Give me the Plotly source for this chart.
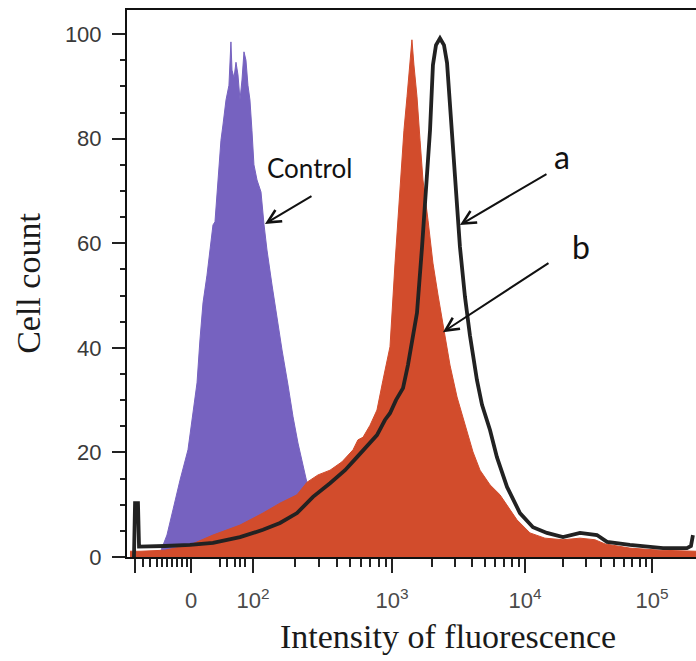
import numpy as np
import plotly.graph_objects as go

# ---- Data (x in display units of the biexponential axis: 10^k -> k) ----
control_x = [1.256, 1.278, 1.308, 1.353, 1.406, 1.466, 1.504, 1.534, 1.556, 1.579, 1.609,
             1.632, 1.654, 1.669, 1.692, 1.714, 1.729, 1.752, 1.774, 1.782, 1.789, 1.797,
             1.812, 1.827, 1.842, 1.857, 1.872, 1.887, 1.902, 1.917, 1.932, 1.947, 1.962,
             1.985, 2.015, 2.038, 2.060, 2.098, 2.135, 2.173, 2.218, 2.256, 2.293, 2.331,
             2.368, 2.421, 2.496, 2.571, 2.647]
control_y = [0.8, 2.3, 4.2, 9.0, 14.7, 20.5, 27.2, 33.3, 41.5, 48.6, 53.9,
             58.7, 63.5, 64.1, 73.0, 79.7, 82.6, 87.4, 90.2, 95.0, 98.5, 93.1,
             91.6, 94.6, 92.2, 87.4, 91.2, 96.6, 95.0, 90.2, 87.4, 81.6, 75.0,
             72.1, 69.8, 63.5, 58.7, 52.0, 45.7, 39.6, 32.9, 26.8, 21.8, 17.2,
             13.4, 9.0, 4.6, 1.7, 0.8]

b_x = [1.030, 1.105, 1.293, 1.481, 1.654, 1.857, 2.030, 2.158, 2.286, 2.361, 2.444,
       2.534, 2.624, 2.707, 2.744, 2.782, 2.835, 2.887, 2.932, 2.985, 3.023, 3.060,
       3.090, 3.113, 3.135, 3.150, 3.165, 3.188, 3.211, 3.233, 3.271, 3.308, 3.346,
       3.383, 3.436, 3.489, 3.526, 3.564, 3.609, 3.662, 3.737, 3.812, 3.872, 3.940,
       4.038, 4.150, 4.286, 4.414, 4.526, 4.602, 4.789, 5.015, 5.286]
b_y = [1.1, 1.1, 1.3, 2.3, 4.2, 6.1, 8.4, 10.3, 11.9, 14.3, 15.7,
       16.6, 18.2, 20.5, 22.4, 22.9, 25.2, 28.1, 33.8, 40.2, 56.2, 70.2,
       81.6, 88.0, 95.0, 98.9, 94.1, 88.0, 79.7, 72.1, 64.4, 56.2, 50.1,
       44.4, 36.7, 30.6, 27.2, 23.9, 20.1, 16.6, 13.8, 11.9, 9.6, 7.1,
       4.6, 3.6, 3.3, 3.6, 3.3, 2.5, 1.7, 1.3, 1.1]

a_x = [1.060, 1.068, 1.090, 1.098, 1.293, 1.481, 1.654, 1.857, 2.030, 2.158, 2.286,
       2.406, 2.534, 2.647, 2.737, 2.820, 2.887, 2.947, 2.985, 3.030, 3.083, 3.120,
       3.158, 3.188, 3.226, 3.263, 3.286, 3.308, 3.331, 3.361, 3.391, 3.414, 3.451,
       3.489, 3.511, 3.549, 3.586, 3.639, 3.677, 3.737, 3.789, 3.865, 3.962, 4.060,
       4.165, 4.286, 4.414, 4.541, 4.617, 4.789, 5.038, 5.218, 5.248, 5.263]
a_y = [0.0, 10.3, 10.3, 2.0, 2.1, 2.3, 2.7, 3.8, 5.2, 6.5, 8.4,
       11.5, 14.1, 16.6, 19.1, 21.4, 23.3, 26.2, 27.5, 30.0, 32.3, 36.7,
       42.4, 46.7, 59.3, 72.1, 81.6, 94.1, 97.9, 99.2, 97.9, 94.5, 81.6,
       68.8, 59.3, 49.7, 42.4, 33.8, 29.1, 24.3, 19.1, 13.4, 8.4, 5.7,
       4.6, 3.8, 4.6, 4.2, 2.9, 2.3, 1.7, 1.7, 2.1, 4.2]

# ---- Axis tick labels ----
x_tick_labels = ["", "0", "10<sup>2</sup>", "10<sup>3</sup>", "10<sup>4</sup>", "10<sup>5</sup>"]
x_tick_pos = [1.068, 1.489, 1.955, 3.0, 4.0, 4.955]
low_minor = [1.128, 1.180, 1.233, 1.271, 1.308, 1.346, 1.383, 1.421, 1.459,
             1.707, 1.759, 1.820, 1.857, 1.895]
decades = [1.955, 3.0, 4.0, 4.955]
minor_x = list(low_minor)
for lo, hi in zip(decades[:-1], decades[1:]):
    for m in range(2, 10):
        minor_x.append(lo + (hi - lo) * np.log10(m))

y_ticks = [0, 20, 40, 60, 80, 100]

fig = go.Figure()
fig.add_trace(go.Scatter(x=control_x, y=control_y, mode="lines", fill="tozeroy",
                         line=dict(color="#7662c0", width=1), fillcolor="#7662c0",
                         name="Control", showlegend=False))
fig.add_trace(go.Scatter(x=b_x, y=b_y, mode="lines", fill="tozeroy",
                         line=dict(color="#d24c2c", width=1), fillcolor="#d24c2c",
                         name="b", showlegend=False))
fig.add_trace(go.Scatter(x=a_x, y=a_y, mode="lines",
                         line=dict(color="#222222", width=3.8),
                         name="a", showlegend=False))

ann_font = "Lato, 'Open Sans', sans-serif"
annotations = [
    dict(x=2.383, y=74.4, xref="x", yref="y", text="Control", showarrow=False,
         font=dict(family=ann_font, size=26, color="#111")),
    dict(x=4.278, y=76.5, xref="x", yref="y", text="a", showarrow=False,
         font=dict(family=ann_font, size=32, color="#111")),
    dict(x=4.421, y=59.3, xref="x", yref="y", text="b", showarrow=False,
         font=dict(family=ann_font, size=32, color="#111")),
    dict(x=2.045, y=63.7, ax=2.406, ay=69.2, xref="x", yref="y", axref="x", ayref="y",
         text="", showarrow=True, arrowhead=5, arrowsize=1.3, arrowwidth=2, arrowcolor="#111"),
    dict(x=3.511, y=63.5, ax=4.173, ay=73.4, xref="x", yref="y", axref="x", ayref="y",
         text="", showarrow=True, arrowhead=5, arrowsize=1.3, arrowwidth=2, arrowcolor="#111"),
    dict(x=3.383, y=43.0, ax=4.188, ay=56.4, xref="x", yref="y", axref="x", ayref="y",
         text="", showarrow=True, arrowhead=5, arrowsize=1.3, arrowwidth=2, arrowcolor="#111"),
    dict(x=0.564, y=-0.146, xref="paper", yref="paper", text="Intensity of fluorescence",
         showarrow=False, xanchor="center", yanchor="middle",
         font=dict(family="'Liberation Serif', 'Times New Roman', serif", size=34, color="#1a1a1a")),
]

fig.update_layout(
    width=696, height=661,
    margin=dict(l=127, r=0, t=10, b=104),
    paper_bgcolor="white", plot_bgcolor="white",
    annotations=annotations,
    showlegend=False,
)
fig.update_xaxes(
    range=[1.0075, 5.286], showgrid=False, zeroline=False,
    showline=True, linecolor="#111", linewidth=2, mirror=True,
    tickmode="array", tickvals=x_tick_pos, ticktext=x_tick_labels,
    ticks="outside", ticklen=14, tickwidth=2, tickcolor="#222",
    tickfont=dict(family="'Liberation Sans', Arial, sans-serif", size=22, color="#4a4a4a"),
    ticklabelstandoff=9,
    minor=dict(tickmode="array", tickvals=minor_x, ticks="outside", ticklen=8,
               tickwidth=1.5, tickcolor="#222", showgrid=False),
)
fig.update_yaxes(
    range=[0, 104.6], showgrid=False, zeroline=False,
    showline=True, linecolor="#111", linewidth=2,
    tickmode="array", tickvals=y_ticks,
    ticks="outside", ticklen=13, tickwidth=2, tickcolor="#222",
    tickfont=dict(family="'Liberation Sans', Arial, sans-serif", size=22, color="#3a3a3a"),
    ticklabelstandoff=6,
    minor=dict(dtick=5, tick0=0, ticks="outside", ticklen=5, tickwidth=1.5,
               tickcolor="#222", showgrid=False),
    title=dict(text="Cell count", standoff=14,
               font=dict(family="'Liberation Serif', 'Times New Roman', serif", size=34, color="#1a1a1a")),
)

fig.write_html("out.html",
               config={"displayModeBar": False},
               post_script="document.body.style.margin='0px';document.body.style.overflow='hidden';")
